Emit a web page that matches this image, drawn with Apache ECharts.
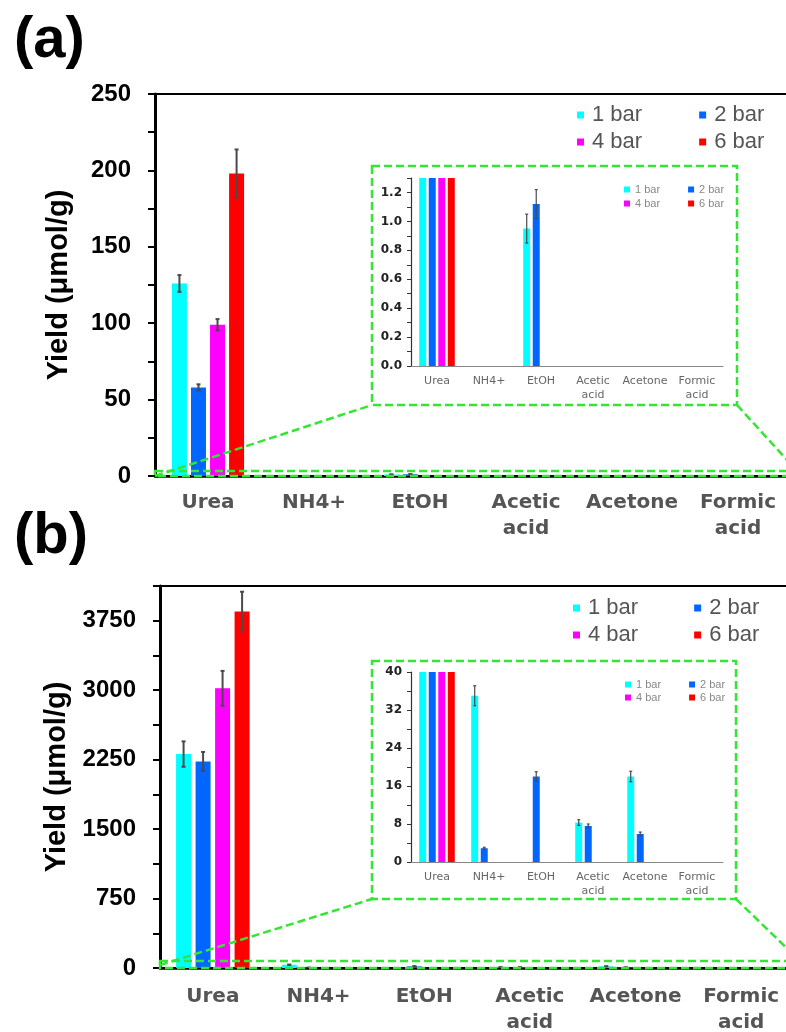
<!DOCTYPE html>
<html>
<head>
<meta charset="utf-8">
<script src="https://cdn.jsdelivr.net/npm/echarts@6/dist/echarts.min.js"></script>
<style>
  html, body { margin: 0; padding: 0; background: #fff; }
  #chart { width: 786px; height: 1032px; }
</style>
</head>
<body>
<div id="chart"></div>
<script>
// ---- data ----
const categories = ['Urea', 'NH4+', 'EtOH', 'Acetic\nacid', 'Acetone', 'Formic\nacid'];
const seriesNames = ['1 bar', '2 bar', '4 bar', '6 bar'];

// (a) product yields, µmol/g
const a1bar = [126, 0, 0.95, 0, 0, 0];
const a2bar = [58, 0, 1.12, 0, 0, 0];
const a4bar = [99, 0, 0, 0, 0, 0];
const a6bar = [198, 0, 0, 0, 0, 0];
const a1barErr = [5.5, 0, 0.1, 0, 0, 0];
const a2barErr = [2, 0, 0.1, 0, 0, 0];
const a4barErr = [3.7, 0, 0, 0, 0, 0];
const a6barErr = [15.7, 0, 0, 0, 0, 0];

// (b) product yields, µmol/g
const b1bar = [2310, 35, 0, 8.3, 18, 0];
const b2bar = [2230, 2.9, 18, 7.6, 5.9, 0];
const b4bar = [3020, 0, 0, 0, 0, 0];
const b6bar = [3850, 0, 0, 0, 0, 0];
const b1barErr = [137, 2.1, 0, 0.6, 1.1, 0];
const b2barErr = [103, 0.2, 1.0, 0.4, 0.4, 0];
const b4barErr = [188, 0, 0, 0, 0, 0];
const b6barErr = [213, 0, 0, 0, 0, 0];

// labelled y ticks
const aTicks = [0, 50, 100, 150, 200, 250];
const bTicks = [0, 750, 1500, 2250, 3000, 3750];
const aInsetTicks = [0, 0.2, 0.4, 0.6, 0.8, 1.0, 1.2];
const bInsetTicks = [0, 8, 16, 24, 32, 40];

// ---- styling ----
const colors = ['#00ffff', '#0066ff', '#ff00ff', '#ff0000'];
const GREEN = '#33e633';
const ARIAL = '"Liberation Sans", Arial, sans-serif';
const DEJAVU = '"DejaVu Sans", sans-serif';

function tickFormatter(ticks, digits) {
  return function (v) {
    const hit = ticks.some(function (t) { return Math.abs(t - v) < 1e-6; });
    return hit ? v.toFixed(digits) : '';
  };
}

function mainXAxis(gridIndex, margin) {
  return {
    gridIndex: gridIndex, type: 'category', data: categories,
    axisLine: { lineStyle: { color: '#000', width: 2.5 } },
    axisTick: { length: 8, lineStyle: { color: '#000', width: 2 } },
    axisLabel: { interval: 0, margin: margin, fontFamily: DEJAVU, fontWeight: 'bold',
                 fontSize: 20, lineHeight: 26, color: '#555' }
  };
}
function insetXAxis(gridIndex) {
  return {
    gridIndex: gridIndex, type: 'category', data: categories,
    axisLine: { lineStyle: { color: '#888', width: 1.2 } },
    axisTick: { length: 4, lineStyle: { color: '#888', width: 1 } },
    axisLabel: { interval: 0, margin: 8, fontFamily: DEJAVU, fontSize: 11,
                 lineHeight: 14, color: '#666' }
  };
}
function mainYAxis(gridIndex, max, step, ticks, nameGap) {
  return {
    gridIndex: gridIndex, type: 'value', min: 0, max: max, interval: step,
    axisLine: { show: true, lineStyle: { color: '#000', width: 3 } },
    axisTick: { show: true, length: 7, lineStyle: { color: '#000', width: 2 } },
    splitLine: { show: false },
    axisLabel: { formatter: tickFormatter(ticks, 0), margin: 24, fontFamily: ARIAL,
                 fontWeight: 'bold', fontSize: 24, color: '#000' },
    name: 'Yield (μmol/g)', nameLocation: 'middle', nameRotate: 90, nameGap: nameGap,
    nameTextStyle: { fontFamily: ARIAL, fontWeight: 'bold', fontSize: 29, color: '#000' }
  };
}
function insetYAxis(gridIndex, max, step, ticks, digits) {
  return {
    gridIndex: gridIndex, type: 'value', min: 0, max: max, interval: step,
    axisLine: { show: true, lineStyle: { color: '#333', width: 1.2 } },
    axisTick: { show: true, length: 4, lineStyle: { color: '#333', width: 1 } },
    splitLine: { show: false },
    axisLabel: { formatter: tickFormatter(ticks, digits), margin: 9, fontFamily: DEJAVU,
                 fontWeight: 'bold', fontSize: 12, color: '#222' }
  };
}

function barSeries(gridIndex, valueSets, barWidth, gapRatio) {
  return valueSets.map(function (vals, i) {
    return {
      type: 'bar', name: seriesNames[i], xAxisIndex: gridIndex, yAxisIndex: gridIndex,
      data: vals, barWidth: barWidth, barGap: (gapRatio * 100) + '%', clip: true,
      itemStyle: { color: colors[i] }, animation: false
    };
  });
}

function errorSeries(gridIndex, valueSets, errSets, barWidth, gapRatio, lw, cap) {
  const step = barWidth * (1 + gapRatio);
  return valueSets.map(function (vals, i) {
    const off = (i - (valueSets.length - 1) / 2) * step;
    return {
      type: 'custom', xAxisIndex: gridIndex, yAxisIndex: gridIndex, clip: true, z: 5,
      silent: true, animation: false,
      data: vals.map(function (v, k) { return [k, v, errSets[i][k]]; }),
      renderItem: function (params, api) {
        const e = api.value(2);
        if (!e) return;
        const k = api.value(0), v = api.value(1);
        const hi = api.coord([k, v + e]);
        const lo = api.coord([k, v - e]);
        const x = hi[0] + off;
        const s = { stroke: '#4a4a4a', lineWidth: lw };
        return { type: 'group', children: [
          { type: 'line', shape: { x1: x, y1: lo[1], x2: x, y2: hi[1] }, style: s },
          { type: 'line', shape: { x1: x - cap, y1: hi[1], x2: x + cap, y2: hi[1] }, style: s },
          { type: 'line', shape: { x1: x - cap, y1: lo[1], x2: x + cap, y2: lo[1] }, style: s }
        ] };
      }
    };
  });
}

function legendRow(names, left, top, size, gap, iconSize, pad, color) {
  return {
    data: names, left: left, top: top, orient: 'horizontal', selectedMode: false,
    itemWidth: iconSize, itemHeight: iconSize, itemGap: gap, icon: 'rect',
    textStyle: { fontFamily: ARIAL, fontSize: size, color: color, padding: [0, 0, 0, pad] }
  };
}

const aVals = [a1bar, a2bar, a4bar, a6bar];
const aErrs = [a1barErr, a2barErr, a4barErr, a6barErr];
const bVals = [b1bar, b2bar, b4bar, b6bar];
const bErrs = [b1barErr, b2barErr, b4barErr, b6barErr];

// zoom decorations: dashed frames around insets, band on main axis, connectors
function dashed(shapeType, shape) {
  return { type: shapeType, shape: shape, z: 100, silent: true,
           style: { stroke: GREEN, lineWidth: 2.5, lineDash: [8, 4], fill: null } };
}

function grid(extra) {
  return Object.assign({ containLabel: false, outerBoundsMode: 'none' }, extra);
}

const option = {
  backgroundColor: '#fff',
  animation: false,
  grid: [
    grid({ left: 155, top: 94, right: -5, height: 382, show: true, borderColor: '#000', borderWidth: 2 }),
    grid({ left: 411, top: 178, width: 312, height: 188 }),
    grid({ left: 160, top: 586, right: -8, height: 382, show: true, borderColor: '#000', borderWidth: 2 }),
    grid({ left: 411, top: 672, width: 312, height: 190 })
  ],
  xAxis: [mainXAxis(0, 14), insetXAxis(1), mainXAxis(2, 16), insetXAxis(3)],
  yAxis: [
    mainYAxis(0, 250, 25, aTicks, 82),
    insetYAxis(1, 1.3, 0.1, aInsetTicks, 1),
    mainYAxis(2, 4125, 375, bTicks, 88),
    insetYAxis(3, 40, 4, bInsetTicks, 0)
  ],
  legend: [
    legendRow(['1 bar', '2 bar'], 572, 99, 22, 57, 7, 3, '#555'),
    legendRow(['4 bar', '6 bar'], 572, 126, 22, 57, 7, 3, '#555'),
    legendRow(['1 bar', '2 bar'], 619, 179, 11, 28, 6, 0, '#888'),
    legendRow(['4 bar', '6 bar'], 619, 193, 11, 28, 6, 0, '#888'),
    legendRow(['1 bar', '2 bar'], 568, 592, 22, 56, 7, 3, '#555'),
    legendRow(['4 bar', '6 bar'], 568, 619, 22, 56, 7, 3, '#555'),
    legendRow(['1 bar', '2 bar'], 620, 674, 11, 28, 6, 0, '#888'),
    legendRow(['4 bar', '6 bar'], 620, 687, 11, 28, 6, 0, '#888')
  ],
  series: [].concat(
    barSeries(0, aVals, 15, 0.27),
    errorSeries(0, aVals, aErrs, 15, 0.27, 2, 2),
    barSeries(1, aVals, 7, 0.36),
    errorSeries(1, aVals, aErrs, 7, 0.36, 1.2, 1.5),
    barSeries(2, bVals, 15, 0.3),
    errorSeries(2, bVals, bErrs, 15, 0.3, 2, 2),
    barSeries(3, bVals, 7, 0.36),
    errorSeries(3, bVals, bErrs, 7, 0.36, 1.2, 1.5)
  ),
  graphic: [
    { type: 'text', left: 14, top: 12, z: 100,
      style: { text: '(a)', font: 'bold 58px ' + ARIAL, fill: '#000' } },
    { type: 'text', left: 14, top: 508, z: 100,
      style: { text: '(b)', font: 'bold 58px ' + ARIAL, fill: '#000' } },
    // panel (a)
    dashed('rect', { x: 372, y: 166, width: 365, height: 239 }),
    dashed('rect', { x: 155, y: 471, width: 645, height: 5 }),
    dashed('line', { x1: 155, y1: 476, x2: 372, y2: 405 }),
    dashed('line', { x1: 737, y1: 405, x2: 797, y2: 471 }),
    // panel (b)
    dashed('rect', { x: 372, y: 661, width: 364, height: 238 }),
    dashed('rect', { x: 160, y: 961, width: 645, height: 7 }),
    dashed('line', { x1: 160, y1: 965, x2: 372, y2: 899 }),
    dashed('line', { x1: 736, y1: 899, x2: 800, y2: 961 })
  ]
};

const chart = echarts.init(document.getElementById('chart'), null, { renderer: 'canvas' });
chart.setOption(option);
</script>
</body>
</html>
